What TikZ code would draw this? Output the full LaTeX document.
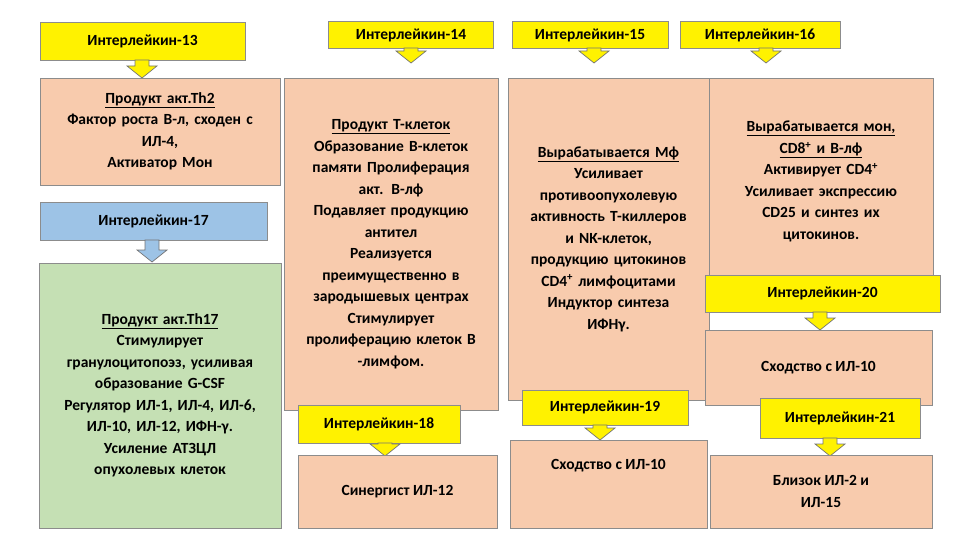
\documentclass[tikz,border=0pt]{standalone}
\usepackage{fontspec}
\setmainfont{Carlito}
\begin{document}
\begin{tikzpicture}[x=1pt,y=-1pt,
  bx/.style={draw=black!45, line width=0.8pt, inner sep=2pt, align=center,
    font=\fontsize{15.5}{21.5}\selectfont\bfseries},
  yel/.style={bx, fill=yellow},
  pch/.style={bx},
  blu/.style={bx},
  grn/.style={bx},
  arr/.style={draw=black!55, line width=0.7pt}]
\useasboundingbox (0,0) rectangle (960,540);
\definecolor{peach}{HTML}{F8CBAD}
\definecolor{lblue}{HTML}{9DC3E6}
\definecolor{lgreen}{HTML}{C5E0B4}
\tikzset{pch/.append style={fill=peach}, blu/.append style={fill=lblue}, grn/.append style={fill=lgreen}}
\newcommand\barr[4]{%
  \filldraw[arr, fill=#4] (#1-7,#2) -- (#1+7,#2) -- (#1+7,#3-12) -- (#1+15,#3-12) -- (#1,#3) -- (#1-15,#3-12) -- (#1-7,#3-12) -- cycle;}
% left column
\node[yel, minimum width=205, minimum height=38] (i13) at (142.5,41) {Интерлейкин-13};
\barr{142}{60}{78}{yellow}
\node[pch, minimum width=240, minimum height=107, text width=236] (p13) at (160,131.5)
  {\underline{Продукт акт.Th2}\\Фактор роста В-л, сходен с\\ИЛ-4,\\Активатор Мон};
\node[blu, minimum width=227, minimum height=38] (i17) at (153.5,221) {Интерлейкин-17};
\barr{152}{240}{262}{lblue}
\node[grn, minimum width=240, minimum height=265, text width=238] (p17) at (160,395.5)
  {\underline{Продукт акт.Th17}\\Стимулирует\\гранулоцитопоэз, усиливая\\образование  G-CSF\\Регулятор  ИЛ-1, ИЛ-4, ИЛ-6,\\ИЛ-10, ИЛ-12, ИФН-γ.\\Усиление АТЗЦЛ\\опухолевых клеток\\[8pt]};
% column 14
\node[yel, minimum width=165, minimum height=27] (i14) at (411,35) {Интерлейкин-14};
\barr{411}{48}{63}{yellow}
\node[pch, minimum width=212, minimum height=332, text width=210] (p14) at (391,244)
  {\underline{Продукт Т-клеток}\\Образование В-клеток\\памяти  Пролиферация\\акт. В-лф\\Подавляет продукцию\\антител\\Реализуется\\преимущественно в\\зародышевых центрах\\Стимулирует\\пролиферацию клеток В\\-лимфом.\\[85pt]};
\node[yel, minimum width=162, minimum height=38] (i18) at (379,424) {Интерлейкин-18};
\barr{385}{443}{456}{yellow}
\node[pch, minimum width=199, minimum height=73] (p18) at (397.5,491.5) {Синергист ИЛ-12};
% column 15
\node[yel, minimum width=156, minimum height=27] (i15) at (590,35) {Интерлейкин-15};
\barr{594}{48}{63}{yellow}
\node[pch, minimum width=197, minimum height=322, text width=197] (p15) at (608.5,239)
  {\underline{Вырабатывается Мф}\\Усиливает\\противоопухолевую\\активность Т-киллеров\\и NK-клеток,\\продукцию цитокинов\\CD4\textsuperscript{+} лимфоцитами\\Индуктор синтеза\\ИФНγ.\\[62pt]};
\node[yel, minimum width=166, minimum height=35] (i19) at (605,407.5) {Интерлейкин-19};
\barr{600}{425}{440}{yellow}
\node[pch, minimum width=197, minimum height=88] (p19) at (608.5,484) {Сходство  с ИЛ-10\\[18pt]};
% column 16
\node[yel, minimum width=160, minimum height=27] (i16) at (760,35) {Интерлейкин-16};
\barr{766}{48}{63}{yellow}
\node[pch, minimum width=222, minimum height=207, text width=220] (p16) at (821,181.5)
  {\underline{Вырабатывается мон,}\\\underline{CD8\textsuperscript{+} и В-лф}\\Активирует CD4\textsuperscript{+}\\Усиливает экспрессию\\CD25 и синтез их\\цитокинов.\\[45pt]};
\node[yel, minimum width=235, minimum height=37] (i20) at (822.5,293.5) {Интерлейкин-20};
\barr{820}{312}{330}{yellow}
\node[pch, minimum width=227, minimum height=75] (p20) at (818.5,367.5) {Сходство  с ИЛ-10};
\node[yel, minimum width=160, minimum height=40] (i21) at (840,418) {Интерлейкин-21};
\barr{830}{438}{456}{yellow}
\node[pch, minimum width=222, minimum height=73] (p21) at (821,491.5) {Близок ИЛ-2 и\\ИЛ-15};
\end{tikzpicture}
\end{document}
